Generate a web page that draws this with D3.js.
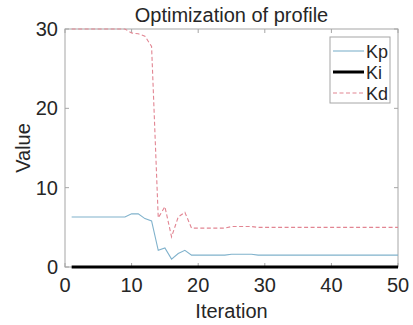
<!DOCTYPE html>
<html>
<head>
<meta charset="utf-8">
<script src="https://cdn.jsdelivr.net/npm/d3@7"></script>
<style>
  body { margin: 0; background: #fff; }
  svg text { font-family: "Liberation Sans", Arial, sans-serif; fill: #262626; }
</style>
</head>
<body>
<div class="chart"></div>
<script>
// iterations 1..50
var iterations = d3.range(1, 51);
// Kp values
var kpValues = [6.3, 6.3, 6.3, 6.3, 6.3, 6.3, 6.3, 6.3, 6.3, 6.7,
                6.7, 6.1, 5.8, 2.1, 2.4, 1.0, 1.7, 2.1, 1.5, 1.5,
                1.5, 1.5, 1.5, 1.5, 1.6, 1.6, 1.6, 1.6, 1.5, 1.5,
                1.5, 1.5, 1.5, 1.5, 1.5, 1.5, 1.5, 1.5, 1.5, 1.5,
                1.5, 1.5, 1.5, 1.5, 1.5, 1.5, 1.5, 1.5, 1.5, 1.5];
// Ki stays at zero
var kiValues = iterations.map(function(){ return 0; });
// Kd values
var kdValues = [30, 30, 30, 30, 30, 30, 30, 30, 30, 29.5,
                29.4, 29.1, 27.8, 6.2, 7.6, 3.8, 6.3, 6.9, 4.9, 4.9,
                4.9, 4.9, 4.9, 4.9, 5.1, 5.1, 5.1, 5.1, 5.0, 5.0,
                5.0, 5.0, 5.0, 5.0, 5.0, 5.0, 5.0, 5.0, 5.0, 5.0,
                5.0, 5.0, 5.0, 5.0, 5.0, 5.0, 5.0, 5.0, 5.0, 5.0];
var xTicks = [0, 10, 20, 30, 40, 50];
var yTicks = [0, 10, 20, 30];
var seriesNames = ["Kp", "Ki", "Kd"];

var width = 413, height = 325;
var margin = {left: 65, right: 15, top: 29, bottom: 58};

var svg = d3.select("div.chart")
    .append("svg")
    .attr("width", width)
    .attr("height", height);

var x = d3.scaleLinear().domain([0, 50]).range([margin.left, width - margin.right]);
var y = d3.scaleLinear().domain([0, 30]).range([height - margin.bottom, margin.top]);

var axisColor = "#a6a6a6";
var kpColor = "#80b2cc", kdColor = "#e28592";

// plot box
svg.append("rect")
    .attr("x", x(0)).attr("y", y(30))
    .attr("width", x(50) - x(0)).attr("height", y(0) - y(30))
    .attr("fill", "none").attr("stroke", axisColor).attr("stroke-width", 1);

// ticks (inward, on all four sides)
var tl = 4;
xTicks.forEach(function(t){
    svg.append("line").attr("x1", x(t)).attr("x2", x(t)).attr("y1", y(0)).attr("y2", y(0) - tl)
        .attr("stroke", axisColor);
    svg.append("line").attr("x1", x(t)).attr("x2", x(t)).attr("y1", y(30)).attr("y2", y(30) + tl)
        .attr("stroke", axisColor);
    svg.append("text").attr("x", x(t)).attr("y", y(0) + 25)
        .attr("text-anchor", "middle").attr("font-size", 20).text(t);
});
yTicks.forEach(function(t){
    svg.append("line").attr("x1", x(0)).attr("x2", x(0) + tl).attr("y1", y(t)).attr("y2", y(t))
        .attr("stroke", axisColor);
    svg.append("line").attr("x1", x(50)).attr("x2", x(50) - tl).attr("y1", y(t)).attr("y2", y(t))
        .attr("stroke", axisColor);
    svg.append("text").attr("x", x(0) - 7).attr("y", y(t) + 7)
        .attr("text-anchor", "end").attr("font-size", 20).text(t);
});

// lines
function lineFor(vals){
    return d3.line()
        .x(function(d, i){ return x(iterations[i]); })
        .y(function(d){ return y(d); })(vals);
}

svg.append("path").attr("d", lineFor(kpValues))
    .attr("fill", "none").attr("stroke", kpColor).attr("stroke-width", 1.1);
svg.append("path").attr("d", lineFor(kdValues))
    .attr("fill", "none").attr("stroke", kdColor).attr("stroke-width", 1.1)
    .attr("stroke-dasharray", "4,2.5");
svg.append("path").attr("d", lineFor(kiValues))
    .attr("fill", "none").attr("stroke", "#000").attr("stroke-width", 3);

// title and axis labels
svg.append("text").attr("x", (x(0) + x(50)) / 2).attr("y", 22)
    .attr("text-anchor", "middle").attr("font-size", 20).text("Optimization of profile");
svg.append("text").attr("x", (x(0) + x(50)) / 2).attr("y", 318)
    .attr("text-anchor", "middle").attr("font-size", 20).text("Iteration");
svg.append("text")
    .attr("transform", "translate(30," + ((y(0) + y(30)) / 2) + ") rotate(-90)")
    .attr("text-anchor", "middle").attr("font-size", 20).text("Value");

// legend
var legend = svg.append("g").attr("transform", "translate(330,37)");
legend.append("rect").attr("width", 60).attr("height", 66)
    .attr("fill", "#fff").attr("stroke", axisColor);
var legendStyles = [
    {color: kpColor, w: 1.1, dash: null},
    {color: "#000", w: 3, dash: null},
    {color: kdColor, w: 1.1, dash: "4,2.5"}
];
seriesNames.forEach(function(name, i){
    var cy = 14 + i * 21;
    legend.append("line").attr("x1", 3).attr("x2", 34).attr("y1", cy).attr("y2", cy)
        .attr("stroke", legendStyles[i].color).attr("stroke-width", legendStyles[i].w)
        .attr("stroke-dasharray", legendStyles[i].dash);
    legend.append("text").attr("x", 36).attr("y", cy + 6.5)
        .attr("font-size", 18).text(name);
});
</script>
</body>
</html>
